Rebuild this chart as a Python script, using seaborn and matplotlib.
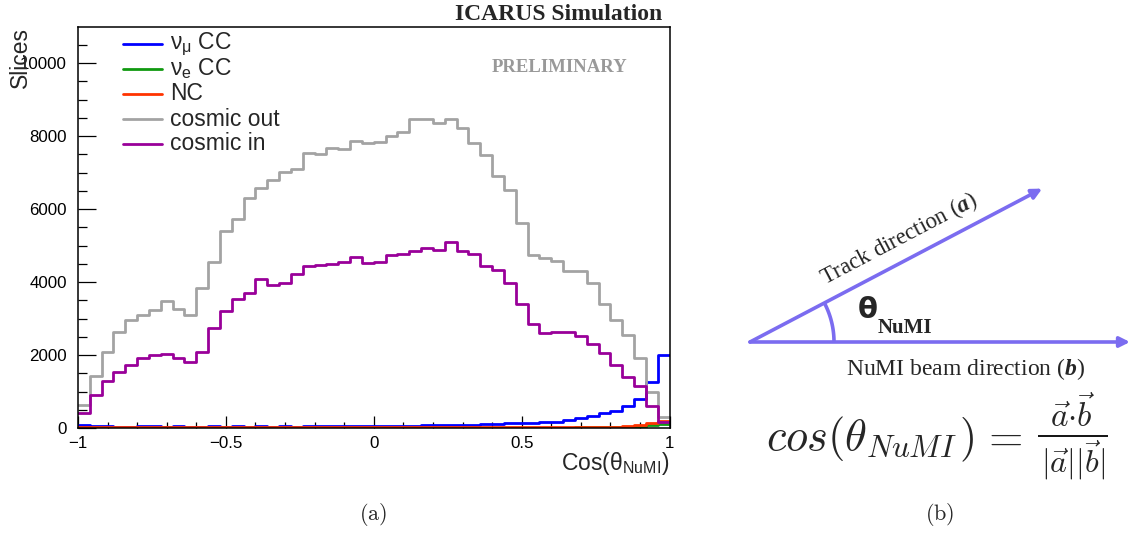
import numpy as np
import pandas as pd
import matplotlib
matplotlib.use("Agg")
import matplotlib.pyplot as plt
from matplotlib.lines import Line2D
import seaborn as sns

# ---------------------------------------------------------------- data
# 50 bins of width 0.04 between -1 and 1
bin_edges = [round(-1.0 + 0.04 * k, 2) for k in range(51)]

numu_cc = [80, 45, 45, 40, 40, 45, 45, 40, 45, 40, 40, 45, 40, 45, 40, 45, 40, 45, 40, 45,
           45, 50, 45, 50, 50, 55, 55, 60, 60, 70, 70, 80, 80, 85, 110, 110, 125, 130, 145, 155,
           175, 220, 280, 340, 400, 465, 610, 790, 1250, 1990]
nue_cc = [5, 5, 5, 5, 5, 5, 5, 5, 5, 5, 5, 5, 5, 5, 5, 5, 5, 5, 5, 5,
          5, 5, 5, 5, 5, 5, 5, 5, 5, 5, 5, 5, 5, 5, 5, 5, 5, 5, 5, 5,
          5, 5, 15, 15, 15, 15, 25, 40, 70, 110]
nc = [20, 20, 20, 20, 20, 20, 20, 20, 20, 20, 20, 20, 20, 20, 20, 20, 20, 20, 20, 20,
      20, 20, 20, 20, 20, 20, 20, 20, 20, 20, 20, 20, 20, 20, 20, 20, 20, 20, 20, 20,
      20, 20, 35, 35, 35, 35, 55, 70, 150, 190]
cosmic_out = [620, 1420, 2070, 2630, 2970, 3090, 3240, 3470, 3250, 3090,
              3830, 4560, 5410, 5740, 6300, 6580, 6800, 7030, 7100, 7530,
              7500, 7670, 7640, 7870, 7820, 7850, 8000, 8120, 8460, 8460,
              8370, 8460, 8230, 7820, 7490, 6910, 6520, 5610, 4750, 4660,
              4590, 4300, 4300, 3980, 3410, 2950, 2560, 1920, 990, 310]
cosmic_in = [420, 900, 1280, 1540, 1720, 1920, 2000, 2040, 1930, 1810,
             2070, 2740, 3200, 3540, 3710, 4090, 3930, 3970, 4210, 4440,
             4470, 4500, 4550, 4700, 4520, 4550, 4730, 4770, 4840, 4930,
             4890, 5110, 4860, 4770, 4450, 4340, 3970, 3410, 2860, 2610,
             2630, 2630, 2510, 2300, 2060, 1720, 1400, 1160, 600, 170]

sample_labels = [r"$\mathregular{ν_{μ}}$ CC", r"$\mathregular{ν_{e}}$ CC", "NC",
                 "cosmic out", "cosmic in"]
sample_colors = ["#0000ff", "#119911", "#ff3300", "#a3a3a3", "#990099"]
sample_counts = [numu_cc, nue_cc, nc, cosmic_out, cosmic_in]

xtick_values = [-1, -0.5, 0, 0.5, 1]
xtick_labels = ["\u22121", "\u22120.5", "0", "0.5", "1"]
ytick_values = [0, 2000, 4000, 6000, 8000, 10000]
ytick_labels = ["0", "2000", "4000", "6000", "8000", "10000"]

# ---------------------------------------------------------------- style
sns.set_theme(style="ticks")
plt.rcParams["font.family"] = ["Liberation Sans", "DejaVu Sans"]
plt.rcParams["mathtext.fontset"] = "custom"
plt.rcParams["mathtext.rm"] = "Liberation Serif"
plt.rcParams["mathtext.it"] = "Liberation Serif:italic"
plt.rcParams["mathtext.bf"] = "Liberation Serif:bold"
plt.rcParams["mathtext.bfit"] = "Liberation Serif:italic:bold"

W, H = 1132, 536
fig = plt.figure(figsize=(W / 100, H / 100), dpi=100)
fig.patch.set_facecolor("white")


def fx(px):
    return px / W


def fy(py):
    return 1 - py / H


# ---------------------------------------------------------------- panel (a)
ax = fig.add_axes([fx(78), fy(428), fx(669.6) - fx(78), fy(26.7) - fy(428)])
centers = [(a + b) / 2 for a, b in zip(bin_edges[:-1], bin_edges[1:])]
for counts, color in zip(sample_counts, sample_colors):
    df = pd.DataFrame({"cos": centers, "n": counts})
    sns.histplot(data=df, x="cos", weights="n", bins=bin_edges, element="step",
                 fill=False, color=color, linewidth=2.0, ax=ax)

ax.set_xlim(-1, 1)
ax.set_ylim(0, 11000)
ax.set_xticks(xtick_values)
ax.set_xticklabels(xtick_labels)
ax.set_xticks(np.arange(-1, 1.001, 0.1), minor=True)
ax.set_yticks(ytick_values)
ax.set_yticklabels(ytick_labels)
ax.set_yticks(np.arange(0, 11000, 500), minor=True)
ax.tick_params(which="both", direction="in", top=False, right=False,
               colors="black", labelsize=12.2, width=0.9)
ax.tick_params(axis="x", which="major", length=8.5, pad=6)
ax.tick_params(axis="x", which="minor", length=4)
ax.tick_params(axis="y", which="major", length=13, pad=8)
ax.tick_params(axis="y", which="minor", length=6.5)
for sp in ax.spines.values():
    sp.set_visible(True)
    sp.set_color("black")
    sp.set_linewidth(1.1)

ax.set_xlabel(r"Cos($\mathregular{θ_{NuMI}}$)", fontsize=16.5, loc="right")
ax.xaxis.set_label_coords(1.0, -0.055)
ax.set_ylabel("Slices", fontsize=16.5, loc="top")
ax.yaxis.set_label_coords(-0.078, 1.0)

# legend rows
for i, (lab, col) in enumerate(zip(sample_labels, sample_colors)):
    yrow = fy(44 + 25 * i)
    fig.add_artist(Line2D([fx(123), fx(162)], [yrow, yrow], color=col, lw=2.0,
                          transform=fig.transFigure))
    fig.text(fx(170), yrow, lab, fontsize=16.5, va="center", ha="left")

fig.text(fx(662), fy(20), "ICARUS Simulation", family="Liberation Serif",
         fontweight="bold", fontsize=17, ha="right", va="baseline")
fig.text(fx(560), fy(68), "PRELIMINARY", family="Liberation Serif",
         fontweight="bold", fontsize=13.5, color="#999999", ha="center", va="center")

# ---------------------------------------------------------------- panel (b)
rax = fig.add_axes([fx(680), 0, 1 - fx(680), 1])
rax.set_xlim(680, W)
rax.set_ylim(H, 0)
rax.axis("off")

arrow_color = "#7b6cf0"
origin = np.array([750.0, 342.0])
track_angle = 27.7
track_len = 330
beam_len = 380
arc_radius = 84

track_end = origin + track_len * np.array([np.cos(np.radians(track_angle)),
                                           -np.sin(np.radians(track_angle))])
beam_end = origin + np.array([beam_len, 0.0])
arrow_kw = dict(arrowstyle="-|>", color=arrow_color, lw=2.6, mutation_scale=15,
                shrinkA=0, shrinkB=0)
rax.annotate("", xy=track_end, xytext=origin, arrowprops=arrow_kw, annotation_clip=False)
rax.annotate("", xy=beam_end, xytext=origin, arrowprops=arrow_kw, annotation_clip=False)

t = np.radians(np.linspace(0, track_angle, 40))
rax.plot(origin[0] + arc_radius * np.cos(t), origin[1] - arc_radius * np.sin(t),
         color=arrow_color, lw=2.6, solid_capstyle="butt")

rax.text(899, 239, r"Track direction ($\mathbfit{a}$)", family="Liberation Serif",
         fontsize=16.5, rotation=track_angle, rotation_mode="anchor",
         ha="center", va="center")
rax.text(966, 369, r"NuMI beam direction ($\mathbfit{b}$)", family="Liberation Serif",
         fontsize=17, ha="center", va="center")
rax.text(868, 310, "θ", family="DejaVu Sans", fontweight="bold", fontsize=21,
         ha="center", va="center")
rax.text(878, 328, "NuMI", family="Liberation Serif", fontweight="bold", fontsize=15,
         ha="left", va="center")

# cos(theta_NuMI) = a.b / (|a||b|), typeset piece by piece
eq_kw = dict(math_fontfamily="cm", va="baseline", ha="left")
rax.text(766, 450, r"$cos(\theta$", fontsize=32, **eq_kw)
rax.text(866, 457, r"$NuMI$", fontsize=22.5, **eq_kw)
rax.text(959, 450, r"$)$", fontsize=32, **eq_kw)
rax.text(981, 450, r"$=$", fontsize=32, **eq_kw)
rax.text(1073, 427, r"$\vec{a}{\cdot}\vec{b}$", fontsize=24, math_fontfamily="cm",
         va="baseline", ha="center")
rax.plot([1038, 1108], [436, 436], color="black", lw=1.3, solid_capstyle="butt")
rax.text(1073, 472, r"$|\vec{a}||\vec{b}|$", fontsize=23, math_fontfamily="cm",
         va="baseline", ha="center")

fig.text(fx(373), fy(515), r"$\mathrm{(a)}$", math_fontfamily="cm", fontsize=16,
         ha="center", va="center")
fig.text(fx(940), fy(515), r"$\mathrm{(b)}$", math_fontfamily="cm", fontsize=16,
         ha="center", va="center")

fig.savefig("out.png", dpi=100, facecolor="white")
